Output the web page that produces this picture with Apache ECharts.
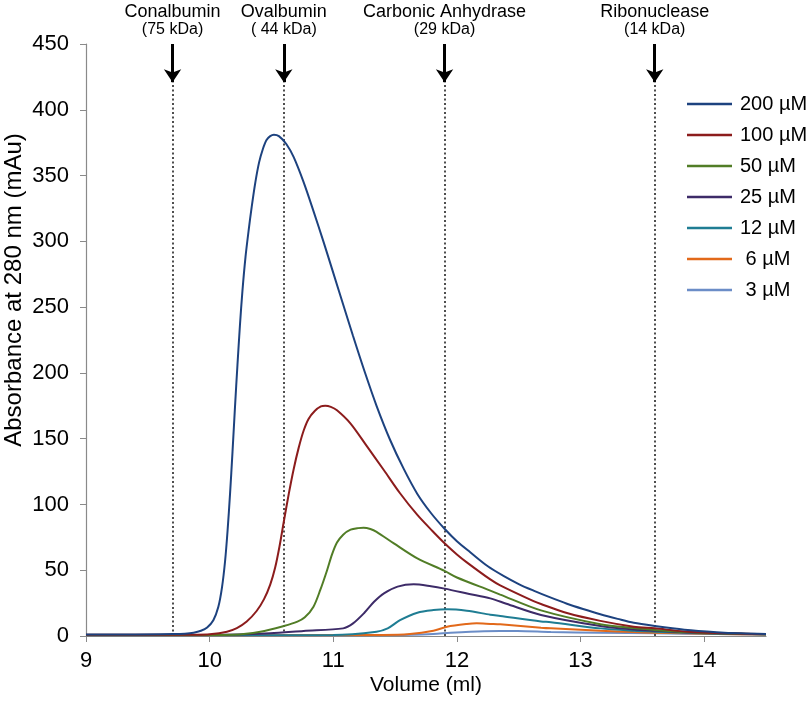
<!DOCTYPE html>
<html><head><meta charset="utf-8">
<script src="https://cdn.jsdelivr.net/npm/echarts@6/dist/echarts.min.js"></script>
<style>html,body{margin:0;padding:0;background:#fff}#c{width:812px;height:721px}</style>
</head><body><div id="c"></div>
<script>
// ---- data ----
const seriesNames = ['200 µM', '100 µM', '50 µM', '25 µM', '12 µM', ' 6 µM', ' 3 µM'];
const xTicks = [9, 10, 11, 12, 13, 14];
const yTicks = [0, 50, 100, 150, 200, 250, 300, 350, 400, 450];

const s200 = [[9.0,1.2],[9.4,1.2],[9.7,1.5],[9.8,1.8],[9.87,2.5],[9.93,4],[9.98,6.5],[10.03,12],[10.07,22],[10.1,37],[10.125,57],[10.145,80],[10.165,108],[10.185,140],[10.205,174],[10.225,206],[10.245,236],[10.265,262],[10.29,288],[10.315,308],[10.34,326],[10.37,345],[10.4,360],[10.43,370],[10.46,377],[10.49,380],[10.52,381],[10.56,380],[10.62,374],[10.68,364],[10.76,345],[10.84,323],[10.92,300],[11.0,276],[11.08,252],[11.16,228],[11.25,202],[11.35,175],[11.46,149],[11.57,127],[11.68,108],[11.79,93.5],[11.9,81.5],[12.0,72],[12.11,63.5],[12.25,53],[12.38,45.5],[12.5,39.5],[12.62,34.5],[12.75,29.5],[12.89,24.5],[13.02,20.5],[13.16,16.5],[13.3,13],[13.43,10],[13.6,7.6],[13.84,4.8],[14.1,2.9],[14.3,2.0],[14.5,1.6]];
const s100 = [[9.0,1.0],[9.5,1.0],[9.9,1.0],[10.0,1.3],[10.14,3.3],[10.22,6],[10.3,11],[10.38,19],[10.44,28],[10.49,39],[10.53,52],[10.565,68],[10.6,87],[10.64,108],[10.68,127],[10.72,143],[10.76,156],[10.8,165],[10.85,171],[10.9,174.5],[10.935,175],[10.98,174.2],[11.03,171.6],[11.14,161.5],[11.27,144.5],[11.41,126],[11.54,108.5],[11.68,92],[11.8,80],[11.9,70.5],[12.0,62],[12.08,56],[12.27,43],[12.35,38.5],[12.62,26.5],[12.68,24.3],[12.89,17.5],[13.16,11.5],[13.43,7.1],[13.6,5.8],[13.84,3.5],[14.1,2.3],[14.5,1.5]];
const s50 = [[9.0,0.8],[10.0,0.8],[10.19,1.0],[10.41,3.3],[10.6,7.6],[10.71,10.9],[10.77,14.2],[10.84,22.3],[10.895,35],[10.95,50],[10.99,62],[11.03,71],[11.08,77],[11.14,80.8],[11.2,82],[11.245,82.2],[11.3,81.3],[11.35,79.2],[11.49,70.4],[11.68,59],[11.9,49.5],[12.0,44.5],[12.27,34.5],[12.35,31.5],[12.68,19.5],[13.16,9],[13.43,6],[13.6,4.6],[13.84,3],[14.1,2],[14.5,1.4]];
const s25 = [[9.0,0.7],[10.0,0.8],[10.49,2],[10.76,3.8],[11.08,5.8],[11.16,9.6],[11.25,17.5],[11.33,26],[11.41,32.4],[11.52,37.5],[11.65,39.3],[11.79,37.8],[11.9,36],[12.1,32],[12.27,28.6],[12.4,24.5],[12.68,16],[13.16,7.6],[13.43,5],[13.6,4],[13.84,2.8],[14.1,2],[14.5,1.4]];
const s12 = [[9.0,0.6],[11.0,0.8],[11.35,3.3],[11.44,5.8],[11.54,12],[11.68,17.7],[11.81,19.7],[11.92,20.3],[12.08,19.2],[12.27,16.2],[12.35,15.2],[12.68,11],[12.76,10.5],[13.16,5.8],[13.43,4],[13.6,3.3],[13.84,2.5],[14.1,1.8],[14.5,1.3]];
const s6 = [[9.0,0.6],[11.4,0.8],[11.62,1.5],[11.81,4],[11.92,7],[12.08,9.1],[12.16,9.6],[12.27,9.2],[12.35,8.9],[12.68,6.3],[12.76,5.8],[13.16,4],[13.43,3],[13.6,2.5],[14.1,1.6],[14.5,1.2]];
const s3 = [[9.0,0.5],[11.5,0.7],[11.81,1.5],[11.95,2.5],[12.22,3.7],[12.35,3.8],[12.49,3.8],[12.76,3.0],[13.16,2.5],[13.6,2],[14.1,1.5],[14.5,1.2]];

const markerVolumes = [9.7, 10.6, 11.9, 13.6];
const markerNames = ['Conalbumin', 'Ovalbumin', 'Carbonic Anhydrase', 'Ribonuclease'];
const markerMasses = ['(75 kDa)', '( 44 kDa)', '(29 kDa)', '(14 kDa)'];

// ---- styling ----
const FONT = 'Liberation Sans, Arial, Helvetica, sans-serif';
const colors = ['#1d427f', '#8c1c1c', '#517d26', '#3d2b68', '#1f7d93', '#e2691a', '#6b8dc7'];
const allData = [s200, s100, s50, s25, s12, s6, s3];
const ARROW_TOP = 450, ARROW_TIP = 421;

const chart = echarts.init(document.getElementById('c'), null, {renderer: 'canvas'});

const lineSeries = allData.map((d, i) => ({
  name: seriesNames[i],
  type: 'line',
  data: d,
  smooth: 0.3,
  symbol: 'none',
  lineStyle: {width: 2, color: colors[i]},
  itemStyle: {color: colors[i]},
  z: 10 - i,
  animation: false
}));

const dottedSeries = {
  name: 'guides', type: 'line', data: [], animation: false,
  markLine: {
    silent: true, animation: false, symbol: 'none',
    lineStyle: {type: [2, 2.5], color: '#222', width: 1.6},
    label: {show: false},
    data: markerVolumes.map(v => [{coord: [v, 0]}, {coord: [v, ARROW_TIP]}])
  }
};

const arrowSeries = {
  name: 'arrows', type: 'line', data: [], animation: false,
  markLine: {
    silent: true, animation: false,
    symbol: ['none', 'arrow'], symbolSize: 13,
    lineStyle: {type: 'solid', color: '#000', width: 3},
    label: {
      show: true, position: 'start', distance: 5,
      formatter: p => `{a|${markerNames[p.dataIndex]}}\n{b|${markerMasses[p.dataIndex]}}`,
      rich: {
        a: {fontFamily: FONT, fontSize: 18, lineHeight: 18, color: '#000'},
        b: {fontFamily: FONT, fontSize: 16, lineHeight: 18, color: '#000'}
      }
    },
    data: markerVolumes.map(v => [{coord: [v, ARROW_TOP]}, {coord: [v, ARROW_TIP]}])
  }
};

chart.setOption({
  backgroundColor: '#fff',
  animation: false,
  textStyle: {fontFamily: FONT},
  grid: {left: 86, right: 46, top: 44, bottom: 85, containLabel: false, outerBoundsMode: 'none'},
  legend: {
    orient: 'vertical', left: 682, top: 89,
    data: seriesNames,
    icon: 'rect',
    itemWidth: 45, itemHeight: 2.5, itemGap: 11,
    textStyle: {fontFamily: FONT, fontSize: 20, color: '#000', lineHeight: 20, padding: [0, 0, 0, 3]}
  },
  xAxis: {
    type: 'value', min: 9, max: 14.5, interval: 1,
    axisLine: {show: true, lineStyle: {color: '#8a8a8a', width: 1.2}},
    axisTick: {show: true, length: 6, lineStyle: {color: '#8a8a8a'}, customValues: xTicks},
    axisLabel: {color: '#000', fontSize: 22, margin: 14, fontFamily: FONT, customValues: xTicks},
    splitLine: {show: false},
    name: 'Volume (ml)', nameLocation: 'middle', nameGap: 39, nameMoveOverlap: false,
    nameTextStyle: {color: '#000', fontSize: 21, fontFamily: FONT}
  },
  yAxis: {
    type: 'value', min: 0, max: 450, interval: 50,
    axisLine: {show: true, lineStyle: {color: '#8a8a8a', width: 1.2}},
    axisTick: {show: true, length: 6, lineStyle: {color: '#8a8a8a'}, customValues: yTicks},
    axisLabel: {color: '#000', fontSize: 22, margin: 17, fontFamily: FONT, customValues: yTicks},
    splitLine: {show: false},
    name: 'Absorbance at 280 nm (mAu)', nameLocation: 'middle', nameGap: 60, nameRotate: 90, nameMoveOverlap: false,
    nameTextStyle: {color: '#000', fontSize: 24, fontFamily: FONT, padding: [0, 0, 0, 100]}
  },
  series: [dottedSeries, arrowSeries, ...lineSeries]
});
</script>
</body></html>
